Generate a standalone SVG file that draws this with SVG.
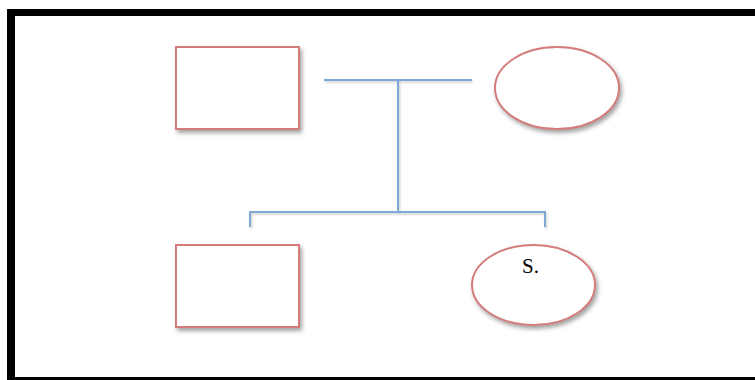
<svg xmlns="http://www.w3.org/2000/svg" width="755" height="380" viewBox="0 0 755 380">
<style>
.shape{fill:#ffffff;stroke:#d47c7c;stroke-width:2;filter:url(#sh)}
.conn{fill:none;stroke:#7fa9d6;stroke-width:2;filter:url(#lsh)}
.lbl{font-family:"Liberation Serif","Times New Roman",serif;font-size:21px;fill:#000}
.frame{fill:#000}
</style>
<defs>
<filter id="sh" x="-20%" y="-20%" width="150%" height="150%">
<feDropShadow dx="2" dy="3" stdDeviation="2" flood-color="#555" flood-opacity="0.55"/>
</filter>
<filter id="lsh" filterUnits="userSpaceOnUse" x="0" y="0" width="755" height="380">
<feDropShadow dx="1" dy="1.5" stdDeviation="1" flood-color="#666" flood-opacity="0.35"/>
</filter>
</defs>
<rect width="755" height="380" fill="#fff"/>
<g id="frame">
<rect class="frame" x="7" y="9" width="748" height="7"/>
<rect class="frame" x="7" y="9" width="8" height="371"/>
<rect class="frame" x="7" y="377" width="748" height="3"/>
</g>
<g id="connectors">
<path class="conn" d="M324,80 H472"/>
<path class="conn" d="M398,80 V212"/>
<path class="conn" d="M250,227 V212 H545 V227"/>
</g>
<g id="node-top-left">
<rect class="shape" x="176" y="47" width="123" height="82"/>
</g>
<g id="node-top-right">
<ellipse class="shape" cx="557" cy="88" rx="62" ry="41"/>
</g>
<g id="node-bottom-left">
<rect class="shape" x="176" y="245" width="123" height="82"/>
</g>
<g id="node-bottom-right">
<ellipse class="shape" cx="533.5" cy="285" rx="61.5" ry="40"/>
<text class="lbl" x="522" y="273">S.</text>
</g>
</svg>
